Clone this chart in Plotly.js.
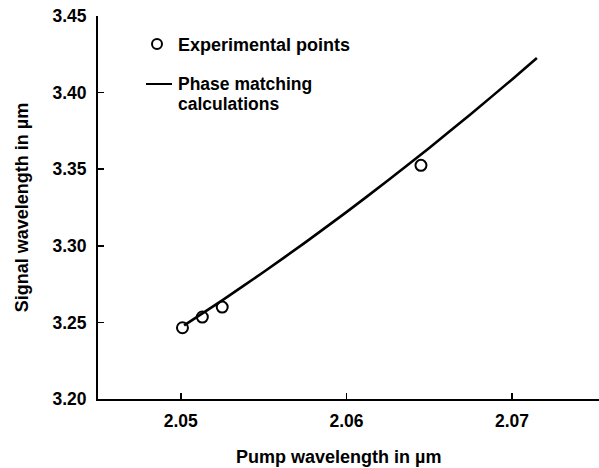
<!DOCTYPE html>
<html>
<head>
<meta charset="utf-8">
<script src="https://cdn.plot.ly/plotly-3.0.1.min.js"></script>
<style>
  html, body { margin: 0; padding: 0; background: #fff; }
  #chart { width: 599px; height: 468px; }
</style>
</head>
<body>
<div id="chart"></div>
<script>
// Measured signal wavelength vs pump wavelength (µm)
const expPump   = [2.0501, 2.0513, 2.0525, 2.0645];
const expSignal = [3.2465, 3.2535, 3.2600, 3.3525];

// Phase matching calculation curve (µm)
const calcPump   = [2.0502, 2.0525, 2.0550, 2.0575, 2.0600, 2.0625, 2.0650, 2.0675, 2.0700, 2.0715];
const calcSignal = [3.2480, 3.2644, 3.2829, 3.3021, 3.3220, 3.3426, 3.3639, 3.3859, 3.4086, 3.4226];

const xTicks = [2.05, 2.06, 2.07];
const xTickText = ['2.05', '2.06', '2.07'];
const yTicks = [3.20, 3.25, 3.30, 3.35, 3.40, 3.45];
const yTickText = ['3.20', '3.25', '3.30', '3.35', '3.40', '3.45'];

const xTitle = 'Pump wavelength in µm';
const yTitle = 'Signal wavelength in µm';
const keyPoints = 'Experimental points';
const keyCurveLines = ['Phase matching', 'calculations'];

const FONT = 'Liberation Sans, Arial, Helvetica, sans-serif';
const font = (size) => ({ family: FONT, size: size, color: '#000', weight: 'bold' });

// plot area in pixels: left 98, top 16, width 501, height 383
const px = (x) => (x - 98) / 501;
const py = (y) => 1 - (y - 16) / 383;

const traces = [
  {
    x: calcPump, y: calcSignal, type: 'scatter', mode: 'lines',
    line: { color: '#000', width: 2.6, shape: 'spline', smoothing: 0.6 },
    hoverinfo: 'skip', showlegend: false
  },
  {
    x: expPump, y: expSignal, type: 'scatter', mode: 'markers',
    marker: { symbol: 'circle-open', size: 11, color: '#000', line: { width: 2, color: '#000' } },
    hoverinfo: 'skip', showlegend: false
  }
];

const axisCommon = {
  showgrid: false, zeroline: false,
  showline: true, linecolor: '#000', linewidth: 2,
  ticks: 'inside', ticklen: 6, tickwidth: 1.5, tickcolor: '#000',
  tickfont: font(17.5),
  mirror: false, fixedrange: true
};

const layout = {
  width: 599, height: 468,
  margin: { l: 98, r: 0, t: 16, b: 69 },
  paper_bgcolor: '#fff', plot_bgcolor: '#fff',
  showlegend: false,
  xaxis: Object.assign({}, axisCommon, {
    range: [2.045, 2.07525],
    tickvals: xTicks, ticktext: xTickText,
    ticklabelstandoff: 5
  }),
  yaxis: Object.assign({}, axisCommon, {
    range: [3.20, 3.45],
    tickvals: yTicks, ticktext: yTickText,
    ticklabelstandoff: 6,
    title: { text: yTitle, standoff: 19, font: font(18) }
  }),
  shapes: [
    // key: open circle
    { type: 'circle', xref: 'paper', yref: 'paper',
      xsizemode: 'pixel', ysizemode: 'pixel',
      xanchor: px(157), yanchor: py(44),
      x0: -5, x1: 5, y0: -5, y1: 5,
      line: { color: '#000', width: 2 } },
    // key: line segment
    { type: 'line', xref: 'paper', yref: 'paper',
      x0: px(146), x1: px(172), y0: py(84), y1: py(84),
      line: { color: '#000', width: 2 } }
  ],
  annotations: [
    { text: xTitle, xref: 'paper', yref: 'paper',
      x: px(338), y: py(457), xanchor: 'center', yanchor: 'middle',
      showarrow: false, font: font(18) },
    { text: keyPoints, xref: 'paper', yref: 'paper',
      x: px(176), y: py(45), xanchor: 'left', yanchor: 'middle',
      showarrow: false, align: 'left', font: font(18) },
    { text: keyCurveLines[0], xref: 'paper', yref: 'paper',
      x: px(176), y: py(84), xanchor: 'left', yanchor: 'middle',
      showarrow: false, align: 'left', font: font(17.5) },
    { text: keyCurveLines[1], xref: 'paper', yref: 'paper',
      x: px(176), y: py(104), xanchor: 'left', yanchor: 'middle',
      showarrow: false, align: 'left', font: font(17.5) }
  ]
};

Plotly.newPlot('chart', traces, layout, { staticPlot: true, displayModeBar: false });
</script>
</body>
</html>
